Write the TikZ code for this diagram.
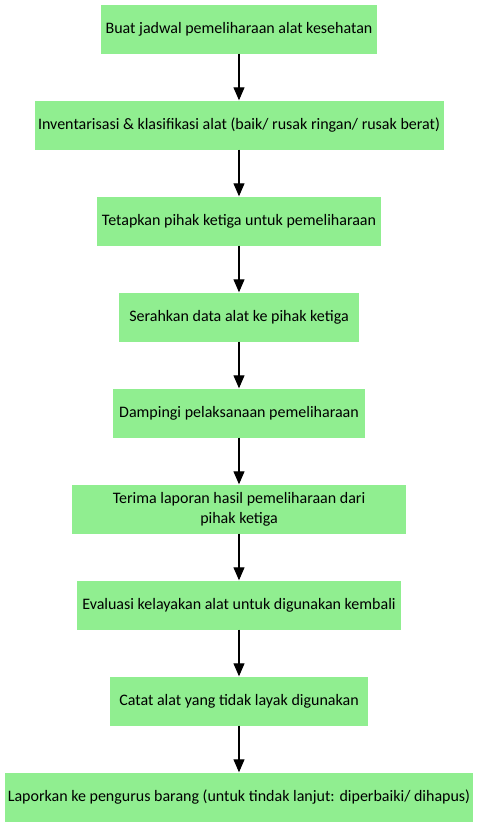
\documentclass[tikz,border=0pt]{standalone}
\usepackage{fontspec}
\setmainfont{Carlito}
\usetikzlibrary{positioning, arrows.meta}
\definecolor{boxgreen}{HTML}{90EE90}

\begin{document}
\begin{tikzpicture}[
    x=1pt, y=1pt,
    % Define block style
    block/.style={rectangle, fill=boxgreen, align=center, minimum height=49pt, inner sep=2pt, font=\fontsize{16}{20}\selectfont},
    % Define arrow style
    arrow/.style={-{Triangle[length=13pt, width=11pt]}, line width=1.1pt},
    % Spacing
    node distance=96pt
]
    \useasboundingbox (0,0) rectangle (477,-827);

    % Nodes (blocks)
    \node[block, minimum width=276pt] (jadwal) at (239,-29) {Buat jadwal pemeliharaan alat kesehatan};
    \node[block, minimum width=409pt, below of=jadwal] (inventaris) {Inventarisasi \& klasifikasi alat (baik/ rusak ringan/ rusak berat)};
    \node[block, minimum width=284pt, below of=inventaris] (pihak) {Tetapkan pihak ketiga untuk pemeliharaan};
    \node[block, minimum width=240pt, below of=pihak] (serah) {Serahkan data alat ke pihak ketiga};
    \node[block, minimum width=252pt, below of=serah] (damping) {Dampingi pelaksanaan pemeliharaan};
    \node[block, minimum width=334pt, below of=damping] (laporan) {Terima laporan hasil pemeliharaan dari\\pihak ketiga};
    \node[block, minimum width=324pt, below of=laporan] (evaluasi) {Evaluasi kelayakan alat untuk digunakan kembali};
    \node[block, minimum width=258pt, below of=evaluasi] (catat) {Catat alat yang tidak layak digunakan};
    \node[block, minimum width=468pt, below of=catat] (pengurus) {Laporkan ke pengurus barang (untuk tindak lanjut: diperbaiki/ dihapus)};

    % Arrows
    \draw[arrow] (jadwal) -- (inventaris);
    \draw[arrow] (inventaris) -- (pihak);
    \draw[arrow] (pihak) -- (serah);
    \draw[arrow] (serah) -- (damping);
    \draw[arrow] (damping) -- (laporan);
    \draw[arrow] (laporan) -- (evaluasi);
    \draw[arrow] (evaluasi) -- (catat);
    \draw[arrow] (catat) -- (pengurus);

\end{tikzpicture}
\end{document}
